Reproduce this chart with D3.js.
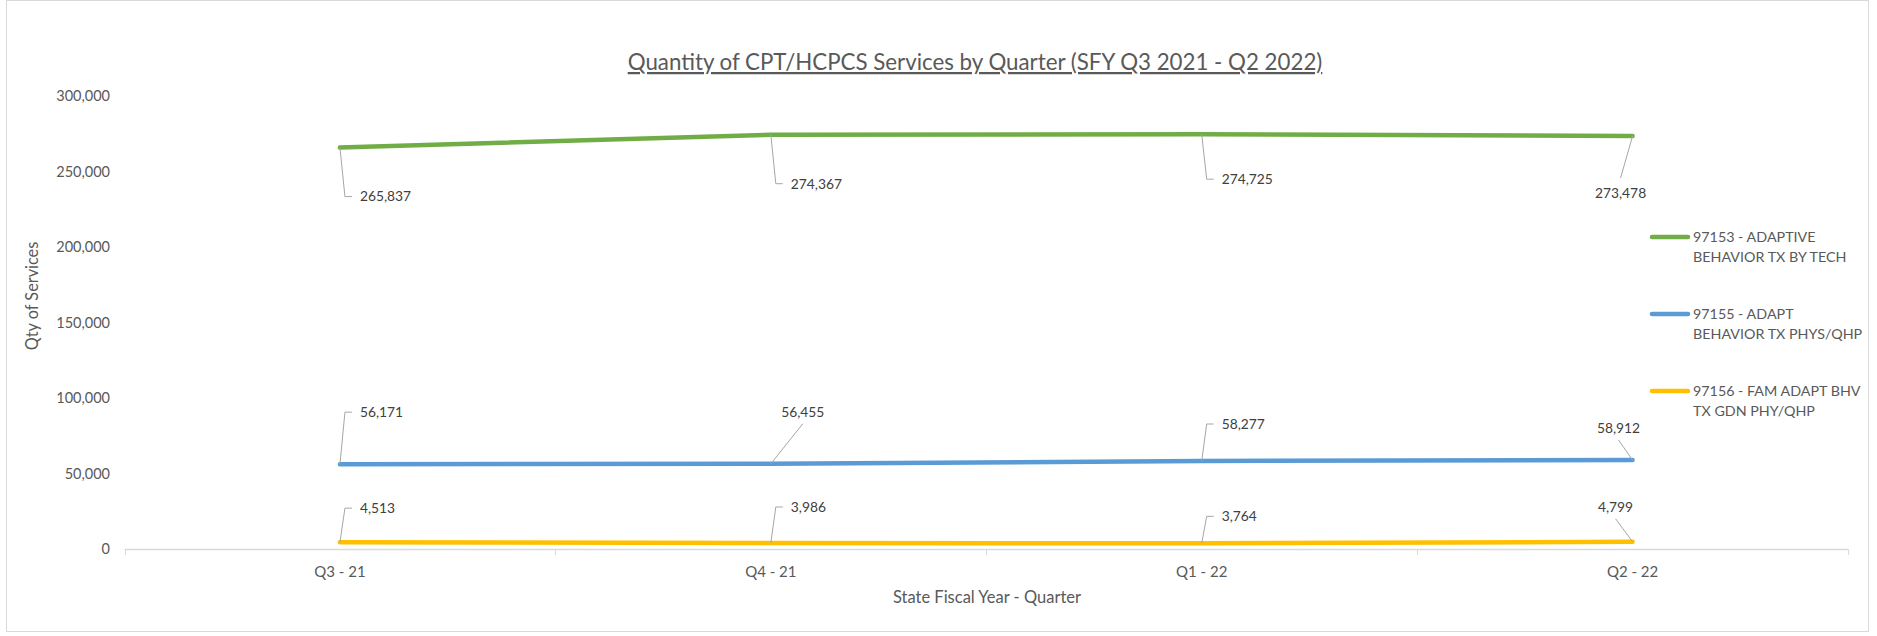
<!DOCTYPE html>
<html>
<head>
<meta charset="utf-8">
<script src="https://cdn.jsdelivr.net/npm/d3@7"></script>
<style>
  body { margin: 0; background: #fff; }
  text { font-family: Lato, "Open Sans", sans-serif; }
</style>
</head>
<body>
<div id="chart"></div>
<script>
// data
const quarters = ["Q3 - 21", "Q4 - 21", "Q1 - 22", "Q2 - 22"];
const legendLabels = [
    ["97153 - ADAPTIVE", "BEHAVIOR TX BY TECH"],
    ["97155 - ADAPT", "BEHAVIOR TX PHYS/QHP"],
    ["97156 - FAM ADAPT BHV", "TX GDN PHY/QHP"]
];
const techQty = [265837, 274367, 274725, 273478];
const physQty = [56171, 56455, 58277, 58912];
const famQty = [4513, 3986, 3764, 4799];
const yTicks = [0, 50000, 100000, 150000, 200000, 250000, 300000];
const colors = ["#70ad47", "#5b9bd5", "#ffc000"];

// where each data label sits relative to its point (layout only)
const labelPlace = [
    [["elbow", 0, 49], ["elbow", 0, 49], ["elbow", 0, 45], ["diag", -12, 57]],
    [["elbow", 0, -52], ["diag", 32, -52], ["elbow", 0, -37], ["diag", -14, -32]],
    [["elbow", 0, -34], ["elbow", 0, -36], ["elbow", 0, -27], ["diag", -17, -35]]
];

const w = 1877, h = 636;
const series = [techQty, physQty, famQty];

const svg = d3.select("#chart")
    .append("svg")
    .attr("width", w)
    .attr("height", h);

// chart border
svg.append("rect")
    .attr("x", 6.5).attr("y", 0.5)
    .attr("width", 1862).attr("height", 631)
    .style("fill", "none")
    .style("stroke", "#d9d9d9");

const x = d3.scaleBand().domain(quarters).range([124.5, 1848]).padding(0);
const y = d3.scaleLinear().domain([0, 300000]).range([549, 96]);
const cx = q => x(q) + x.bandwidth() / 2;
const fmt = d3.format(",");

// title
svg.append("text")
    .attr("x", 975).attr("y", 70)
    .attr("text-anchor", "middle")
    .style("font-size", "22.3px")
    .style("fill", "#595959")
    .style("text-decoration", "underline")
    .text("Quantity of CPT/HCPCS Services by Quarter (SFY Q3 2021 - Q2 2022)");

// y axis labels
const yAxis = svg.append("g")
    .attr("transform", "translate(110,0)")
    .call(d3.axisLeft(y).tickValues(yTicks).tickSize(0).tickPadding(0).tickFormat(fmt));
yAxis.select(".domain").remove();
yAxis.selectAll("text")
    .style("font-family", "Lato, sans-serif")
    .style("font-size", "14.5px")
    .style("fill", "#595959");

// x axis line + ticks at band edges
svg.append("line")
    .attr("x1", x.range()[0]).attr("x2", x.range()[1])
    .attr("y1", 549.5).attr("y2", 549.5)
    .style("stroke", "#d9d9d9").style("stroke-width", 1.3);

const edges = quarters.map(q => x(q)).concat([x.range()[1]]);
svg.selectAll(".xtick")
    .data(edges)
    .enter().append("line")
    .attr("class", "xtick")
    .attr("x1", d => Math.round(d) + 0.5).attr("x2", d => Math.round(d) + 0.5)
    .attr("y1", 549).attr("y2", 555)
    .style("stroke", "#d9d9d9");

svg.selectAll(".xlab")
    .data(quarters)
    .enter().append("text")
    .attr("class", "xlab")
    .attr("x", d => cx(d))
    .attr("y", 572)
    .attr("dy", "0.35em")
    .attr("text-anchor", "middle")
    .style("font-size", "15px")
    .style("fill", "#595959")
    .text(d => d);

// axis titles
svg.append("text")
    .attr("x", 987).attr("y", 597)
    .attr("dy", "0.35em")
    .attr("text-anchor", "middle")
    .style("font-size", "16.5px")
    .style("fill", "#595959")
    .text("State Fiscal Year - Quarter");

svg.append("text")
    .attr("transform", "translate(32,296) rotate(-90)")
    .attr("dy", "0.35em")
    .attr("text-anchor", "middle")
    .style("font-size", "16.3px")
    .style("fill", "#595959")
    .text("Qty of Services");

// lines
const line = d3.line()
    .x((d, i) => cx(quarters[i]))
    .y(d => y(d));

svg.selectAll(".series")
    .data(series)
    .enter().append("path")
    .attr("class", "series")
    .attr("d", d => line(d))
    .style("fill", "none")
    .style("stroke", (d, i) => colors[i])
    .style("stroke-width", 4.5)
    .style("stroke-linecap", "round")
    .style("stroke-linejoin", "round");

// data labels with leader lines
series.forEach(function(vals, s) {
    vals.forEach(function(v, i) {
        const px = cx(quarters[i]), py = y(v);
        const p = labelPlace[s][i];
        const ly = py + p[2];
        let path, tx, anchor;
        if (p[0] == "elbow") {
            path = `M${px},${py} L${px + 5},${ly} L${px + 12},${ly}`;
            tx = px + 20;
            anchor = "start";
        } else {
            tx = px + p[1];
            const ey = ly + (p[2] < 0 ? 12 : -15);
            path = `M${px},${py} L${tx},${ey}`;
            anchor = "middle";
        }
        svg.append("path")
            .attr("d", path)
            .style("fill", "none")
            .style("stroke", "#a6a6a6")
            .style("stroke-width", 1);
        svg.append("text")
            .attr("x", tx).attr("y", ly)
            .attr("dy", "0.35em")
            .attr("text-anchor", anchor)
            .style("font-size", "13.8px")
            .style("fill", "#404040")
            .text(fmt(v));
    });
});

// legend
const legend = svg.selectAll(".legend")
    .data(legendLabels)
    .enter().append("g")
    .attr("class", "legend")
    .attr("transform", (d, i) => `translate(1652,${237 + i * 77})`);

legend.append("line")
    .attr("x1", 0).attr("x2", 36)
    .attr("y1", 0).attr("y2", 0)
    .style("stroke", (d, i) => colors[i])
    .style("stroke-width", 4.5)
    .style("stroke-linecap", "round");

legend.selectAll("text")
    .data(d => d)
    .enter().append("text")
    .attr("x", 41)
    .attr("y", (d, j) => j * 19.5)
    .attr("dy", "0.35em")
    .style("font-size", "14.3px")
    .style("fill", "#595959")
    .text(d => d);
</script>
</body>
</html>
